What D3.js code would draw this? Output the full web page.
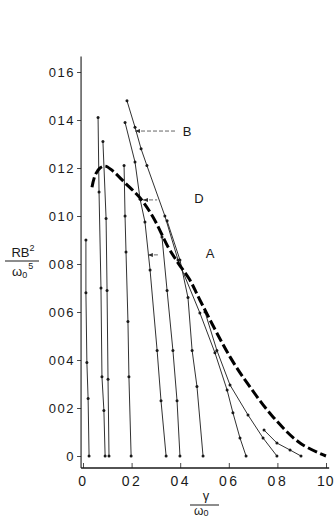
<!DOCTYPE html>
<html><head><meta charset="utf-8">
<script src="https://cdn.jsdelivr.net/npm/d3@7/dist/d3.min.js"></script>
<style>html,body{margin:0;padding:0;background:#fff;}svg{display:block;}</style>
</head><body>
<svg id="chart" width="335" height="520"></svg>
<script>
// ---- data ----
const xTicks = [0, 0.2, 0.4, 0.6, 0.8, 1.0];
const xTickLabels = ["0", "02", "04", "06", "08", "10"];
const yTicks = [0, 0.02, 0.04, 0.06, 0.08, 0.10, 0.12, 0.14, 0.16];
const yTickLabels = ["0", "002", "004", "006", "008", "010", "012", "014", "016"];

// thin solid curves with dots, [gamma/omega0, RB^2/omega0^5]
const curve025 = [[0.012,0.090],[0.012,0.068],[0.016,0.039],[0.021,0.024],[0.025,0]];
const curve091 = [[0.062,0.141],[0.066,0.110],[0.074,0.070],[0.078,0.033],[0.086,0.019],[0.091,0]];
const curve107 = [[0.082,0.131],[0.095,0.099],[0.099,0.069],[0.103,0.032],[0.107,0]];
const curve198 = [[0.169,0.121],[0.173,0.100],[0.177,0.085],[0.185,0.056],[0.189,0.033],[0.198,0]];
const curve342 = [[0.173,0.139],[0.214,0.1225],[0.235,0.107],[0.255,0.0975],[0.276,0.0775],[0.305,0.044],[0.321,0.023],[0.342,0]];
const curve399 = [[0.325,0.0913],[0.346,0.069],[0.370,0.044],[0.387,0.023],[0.399,0]];
const curve494 = [[0.346,0.098],[0.399,0.0817],[0.432,0.066],[0.449,0.044],[0.469,0.029],[0.494,0]];
const curve671 = [[0.181,0.148],[0.214,0.137],[0.239,0.128],[0.263,0.121],[0.337,0.100],[0.391,0.0817],[0.481,0.0596],[0.543,0.043],[0.593,0.0275],[0.617,0.018],[0.646,0.0075],[0.671,0]];
const curve798 = [[0.502,0.060],[0.551,0.044],[0.605,0.0296],[0.679,0.0171],[0.741,0.0075],[0.798,0]];
const curve897 = [[0.745,0.0108],[0.798,0.0054],[0.852,0.0025],[0.897,0]];
const thinCurves = [curve025, curve091, curve107, curve198, curve342, curve399, curve494, curve671, curve798, curve897];

// thick dashed envelope
const envelope = [[0.037,0.112],[0.05,0.117],[0.07,0.120],[0.091,0.1208],[0.12,0.119],[0.173,0.1138],[0.235,0.1075],[0.288,0.0996],[0.35,0.0871],[0.391,0.0805],[0.44,0.0733],[0.481,0.065],[0.605,0.0413],[0.687,0.0288],[0.782,0.0163],[0.893,0.0054],[1.0,0.0]];

// annotations: label, label position, pointer line from x0 to x1 at y
const annLabels = ["B", "D", "A"];
const annLabelX = [0.428, 0.477, 0.523];
const annLabelY = [0.1354, 0.1075, 0.0846];
const annArrowX0 = [0.214, 0.247, 0.267];
const annArrowX1 = [0.379, 0.305, 0.309];
const annArrowY = [0.1354, 0.1067, 0.0838];

// ---- drawing ----
const svg = d3.select("#chart");
const x = d3.scaleLinear().domain([0, 1]).range([83, 326]);
const y = d3.scaleLinear().domain([0, 0.16]).range([456, 72]);
const ink = "#1a1a1a";
const font = "'Liberation Sans', Arial, sans-serif";

// axes
const axisX0 = x(-0.008), axisYpos = y(-0.005);
svg.append("line").attr("x1", axisX0).attr("x2", axisX0).attr("y1", y(0.1665)).attr("y2", axisYpos)
  .attr("stroke", ink).attr("stroke-width", 1.1);
svg.append("line").attr("x1", axisX0).attr("x2", x(1.013)).attr("y1", axisYpos).attr("y2", axisYpos)
  .attr("stroke", ink).attr("stroke-width", 1.3);

const yAxis = d3.axisLeft(y).tickValues(yTicks).tickFormat((d, i) => yTickLabels[i]).tickSize(4).tickPadding(2);
const gy = svg.append("g").attr("transform", `translate(${axisX0},0)`).call(yAxis);
gy.select(".domain").remove();
gy.selectAll(".tick line").attr("stroke", ink).attr("stroke-width", 0.8);
gy.selectAll(".tick text").attr("fill", ink).style("font-family", font).style("font-size", "13px").style("letter-spacing", "1.5px");

const xAxis = d3.axisBottom(x).tickValues(xTicks).tickFormat((d, i) => xTickLabels[i]).tickSize(-5).tickPadding(8);
const gx = svg.append("g").attr("transform", `translate(0,${axisYpos})`).call(xAxis);
gx.select(".domain").remove();
gx.selectAll(".tick line").attr("stroke", ink).attr("stroke-width", 0.8);
gx.selectAll(".tick text").attr("fill", ink).style("font-family", font).style("font-size", "14px").style("letter-spacing", "2.5px");
// keep the last label inside the window
gx.selectAll(".tick text").filter((d, i) => i === xTicks.length - 1)
  .attr("text-anchor", "end").attr("x", 334 - x(1.0)).style("letter-spacing", "1px");

// thin curves
const line = d3.line().x(d => x(d[0])).y(d => y(d[1]));
thinCurves.forEach(c => {
  svg.append("path").datum(c).attr("d", line).attr("fill", "none").attr("stroke", ink).attr("stroke-width", 0.9);
  svg.selectAll(null).data(c).enter().append("circle")
    .attr("cx", d => x(d[0])).attr("cy", d => y(d[1])).attr("r", 1.5).attr("fill", ink);
});

// envelope
const envLine = d3.line().x(d => x(d[0])).y(d => y(d[1])).curve(d3.curveCatmullRom.alpha(0.5));
svg.append("path").datum(envelope).attr("d", envLine).attr("fill", "none")
  .attr("stroke", "#000").attr("stroke-width", 3).attr("stroke-dasharray", "10,3.5");

// annotations
annLabels.forEach((t, i) => {
  svg.append("line").attr("x1", x(annArrowX0[i])).attr("x2", x(annArrowX1[i]))
    .attr("y1", y(annArrowY[i])).attr("y2", y(annArrowY[i]))
    .attr("stroke", "#555").attr("stroke-width", 0.9).attr("stroke-dasharray", "4,2");
  const ax = x(annArrowX0[i]), ay = y(annArrowY[i]);
  svg.append("path").attr("d", `M${ax},${ay}L${ax+5},${ay-2}L${ax+5},${ay+2}Z`).attr("fill", "#333");
  svg.append("text").attr("x", x(annLabelX[i])).attr("y", y(annLabelY[i])).attr("dy", "0.36em")
    .attr("text-anchor", "middle").attr("fill", ink).style("font-family", font).style("font-size", "13px").text(t);
});

// y label: RB^2 / omega0^5
const yl = svg.append("g").style("font-family", font).attr("fill", ink);
yl.append("text").attr("x", 23).attr("y", 257).attr("text-anchor", "middle").style("font-size", "13px")
  .text("RB").append("tspan").attr("dy", -6).style("font-size", "9px").text("2");
yl.append("line").attr("x1", 5).attr("x2", 39).attr("y1", 261).attr("y2", 261).attr("stroke", ink).attr("stroke-width", 1);
const om = yl.append("text").attr("x", 12).attr("y", 276).style("font-size", "13px");
om.append("tspan").text("ω");
om.append("tspan").attr("dy", 2).style("font-size", "9px").text("0");
om.append("tspan").attr("dy", -9).attr("dx", 1).style("font-size", "9px").text("5");

// x label: gamma / omega0
const xl = svg.append("g").style("font-family", font).attr("fill", ink);
xl.append("text").attr("x", 206).attr("y", 500).attr("text-anchor", "middle").style("font-size", "13px").text("γ");
xl.append("line").attr("x1", 190).attr("x2", 219).attr("y1", 505).attr("y2", 505).attr("stroke", ink).attr("stroke-width", 1);
const om2 = xl.append("text").attr("x", 194).attr("y", 515).style("font-size", "12px");
om2.append("tspan").text("ω");
om2.append("tspan").attr("dy", 1).style("font-size", "9px").text("0");
</script>
</body></html>
